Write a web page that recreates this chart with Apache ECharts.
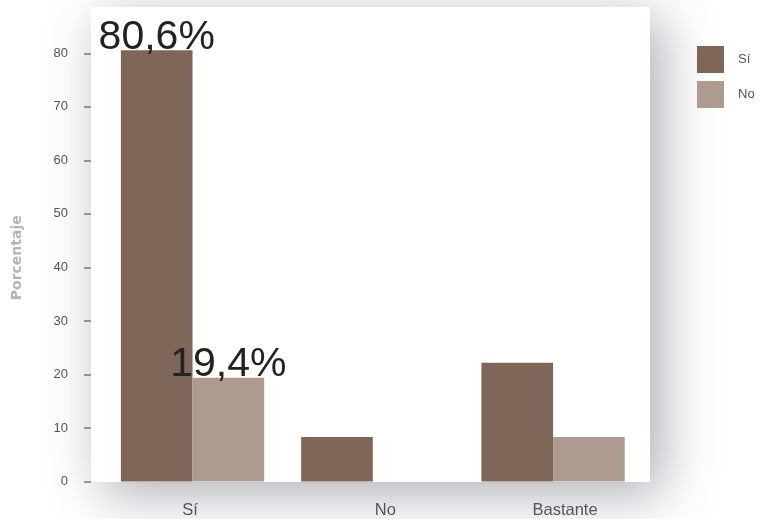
<!DOCTYPE html>
<html>
<head>
<meta charset="utf-8">
<style>
  html, body { margin: 0; padding: 0; background: #ffffff; }
  #chart { width: 765px; height: 519px; }
</style>
<script src="https://cdn.jsdelivr.net/npm/echarts@6/dist/echarts.min.js"></script>
</head>
<body>
<div id="chart"></div>
<script>
// Response categories on the x axis
const categories = ['Sí', 'No', 'Bastante'];
// Horizontal nudge of each category label (px, + = right)
const categoryLabelShift = [-2.5, 12.5, 12];
// Series names (legend entries)
const seriesNames = ['Sí', 'No'];
// Percentages per category for each series
const siValues = [80.6, 8.3, 22.2];
const noValues = [19.4, 0, 8.3];
// Which bars carry a value label (by category index)
const siLabelled = [0];
const noLabelled = [0];
// Y axis tick values
const yTicks = [0, 10, 20, 30, 40, 50, 60, 70, 80];

const colors = ['#7f6659', '#ae9b90'];
const fontFamily = '"Liberation Sans", Arial, Helvetica, sans-serif';

function fmtPct(v) {
  return String(v).replace('.', ',') + '%';
}

function buildData(values, labelled) {
  return values.map(function (v, i) {
    const item = { value: v };
    if (labelled.indexOf(i) >= 0) {
      item.label = {
        show: true,
        position: 'top',
        distance: -8,
        formatter: function (p) { return fmtPct(p.value); },
        fontSize: 41,
        color: '#222222',
        fontFamily: fontFamily
      };
    }
    return item;
  });
}

const categoryData = categories.map(function (c, i) {
  const s = categoryLabelShift[i];
  return {
    value: c,
    textStyle: { padding: s >= 0 ? [0, 0, 0, 2 * s] : [0, -2 * s, 0, 0] }
  };
});

const chart = echarts.init(document.getElementById('chart'), null, { renderer: 'canvas' });

chart.setOption({
  animation: false,
  backgroundColor: '#ffffff',
  color: colors,
  graphic: [{
    type: 'rect',
    left: 91,
    top: 7,
    z: -10,
    silent: true,
    shape: { width: 559, height: 475 },
    style: {
      fill: '#ffffff',
      shadowBlur: 50,
      shadowOffsetX: 12,
      shadowOffsetY: 12,
      shadowColor: 'rgba(70, 78, 90, 0.45)'
    }
  }],
  legend: {
    orient: 'vertical',
    left: 692,
    top: 41,
    itemWidth: 27,
    itemHeight: 27,
    itemGap: 8,
    icon: 'rect',
    data: seriesNames,
    textStyle: {
      color: '#555555',
      fontSize: 13,
      fontFamily: fontFamily,
      padding: [0, 0, 0, 9]
    }
  },
  grid: {
    left: 102.4,
    right: 121.8,
    top: 7,
    bottom: 37.5,
    containLabel: false
  },
  xAxis: {
    type: 'category',
    data: categoryData,
    axisLine: { show: false },
    axisTick: { show: false },
    axisLabel: {
      color: '#555555',
      fontSize: 16.5,
      fontFamily: fontFamily,
      margin: 20
    }
  },
  yAxis: {
    type: 'value',
    min: 0,
    max: 88.66,
    interval: 10,
    offset: 11.4,
    name: 'Porcentaje',
    nameLocation: 'middle',
    nameGap: 67,
    nameRotate: 90,
    nameTextStyle: {
      color: '#b3b3b3',
      fontSize: 14,
      fontWeight: 'bold',
      fontFamily: '"DejaVu Sans", sans-serif',
      padding: [0, 27, 0, 0]
    },
    splitLine: { show: false },
    axisLine: { show: false },
    axisTick: {
      show: true,
      length: 7,
      customValues: yTicks,
      lineStyle: { color: '#8b7064', width: 1.5 }
    },
    axisLabel: {
      color: '#555555',
      fontSize: 13,
      fontFamily: fontFamily,
      margin: 23,
      customValues: yTicks
    }
  },
  series: [
    {
      name: seriesNames[0],
      type: 'bar',
      data: buildData(siValues, siLabelled),
      barGap: '0%',
      barCategoryGap: '20.5%',
      itemStyle: { color: colors[0] }
    },
    {
      name: seriesNames[1],
      type: 'bar',
      data: buildData(noValues, noLabelled),
      barGap: '0%',
      barCategoryGap: '20.5%',
      itemStyle: { color: colors[1] }
    }
  ]
});
</script>
</body>
</html>
